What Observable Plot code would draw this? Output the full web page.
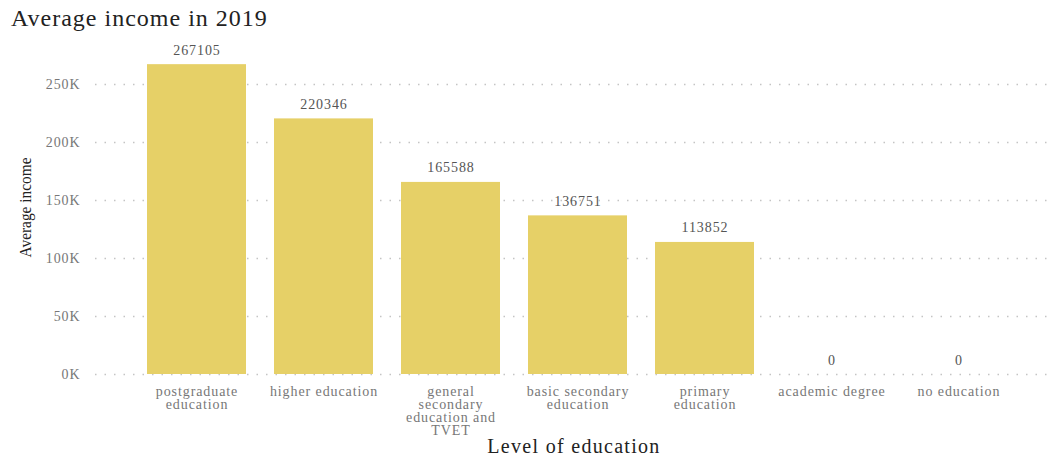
<!DOCTYPE html>
<html><head><meta charset="utf-8">
<script src="https://cdn.jsdelivr.net/npm/d3@7"></script>
<script src="https://cdn.jsdelivr.net/npm/@observablehq/plot@0.6"></script>
<style>
body{margin:0;background:#fff;font-family:"Liberation Serif",serif;}
#title{height:36px;font-size:24px;padding-left:11px;line-height:36px;color:#222;letter-spacing:1px;}
#chart svg text{letter-spacing:0.065em;}
#chart svg .ylab text{letter-spacing:0;}
</style></head><body>
<div id="title">Average income in 2019</div>
<div id="chart"></div>
<script>
const categories = ["postgraduate education","higher education","general secondary education and TVET","basic secondary education","primary education","academic degree","no education"];
const tickLabels = ["postgraduate\neducation","higher education","general\nsecondary\neducation and\nTVET","basic secondary\neducation","primary\neducation","academic degree","no education"];
const values = [267105,220346,165588,136751,113852,0,0];
const yTicks = [0,50000,100000,150000,200000,250000];
const yTickLabels = ["0K","50K","100K","150K","200K","250K"];

const data = categories.map((c,i)=>({category:c, value:values[i]}));
const labelMap = new Map(categories.map((c,i)=>[c,tickLabels[i]]));
const yLabelMap = new Map(yTicks.map((t,i)=>[t,yTickLabels[i]]));

const chart = Plot.plot({
  width:1058, height:421,
  marginLeft:95, marginRight:6, marginTop:48, marginBottom:83,
  style:{fontFamily:"'Liberation Serif', serif", fontSize:"14px", background:"white", overflow:"visible"},
  x:{domain:categories, paddingInner:0.22, paddingOuter:0.11, insetLeft:37, insetRight:28, label:null},
  y:{domain:[0,250000], label:null},
  marks:[
    Plot.ruleY(yTicks,{stroke:"#c4c4c4", strokeDasharray:"1.5,8", strokeWidth:1.3}),
    Plot.barY(data,{x:"category", y:"value", fill:"#E6D067"}),
    Plot.text(data,{x:"category", y:"value", text:d=>String(d.value), dy:-10, lineAnchor:"bottom", fill:"#555", fontSize:14}),
    Plot.axisY(yTicks,{tickSize:0, tickPadding:15, tickFormat:d=>yLabelMap.get(d), fill:"#777", fontSize:14, label:null}),
    Plot.axisX({tickSize:0, tickPadding:12, tickFormat:d=>labelMap.get(d), fill:"#777", fontSize:14, lineHeight:0.93, label:null}),
    Plot.text(["Level of education"],{frameAnchor:"bottom", dy:72, lineAnchor:"middle", textAnchor:"middle", fontSize:20, fill:"#222"}),
    Plot.text(["Average income"],{frameAnchor:"left", textAnchor:"middle", lineAnchor:"middle", rotate:-90, dx:-70, dy:-22, fontSize:17, fill:"#222", className:"ylab"})
  ]
});
chart.querySelectorAll(".ylab text").forEach(t => {
  t.setAttribute("textLength", "100");
  t.setAttribute("lengthAdjust", "spacingAndGlyphs");
});
document.getElementById("chart").appendChild(chart);
</script>
</body></html>
